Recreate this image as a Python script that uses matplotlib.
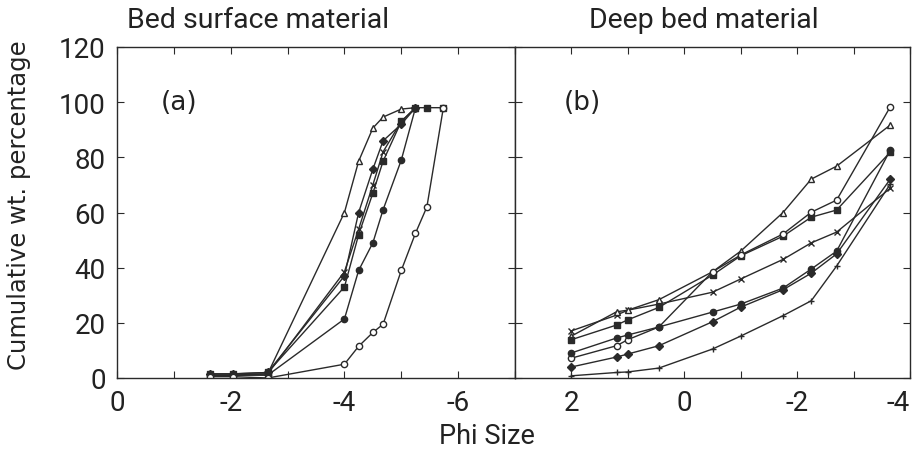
import matplotlib
matplotlib.use("Agg")
import matplotlib.pyplot as plt
from matplotlib.ticker import MultipleLocator

# ---------------- data ----------------
# Panel (a): bed surface material
phi_a = [-1.64, -2.04, -2.65, -4.0, -4.25, -4.5, -4.68, -5.0, -5.25, -5.45, -5.74]
a_triangle = [1.0, 1.0, 1.5, 60.0, 78.6, 90.6, 94.6, 97.5, 98.0]
a_diamond = [1.5, 1.5, 2.0, 37.0, 60.0, 75.7, 86.0, 92.0, 98.0]
a_square = [1.5, 1.5, 2.0, 33.0, 52.0, 67.0, 78.6, 93.0, 98.0, 98.0, 98.0]
a_cross = [1.0, 1.0, 1.5, 38.5, 54.0, 70.0, 82.0, 93.0, 98.0]
a_fcircle = [1.0, 1.0, 1.0, 21.4, 39.0, 49.0, 61.0, 79.0, 98.0]
a_ocircle = [0.5, 0.5, 0.0, 5.0, 11.5, 16.5, 19.5, 39.0, 52.5, 62.0, 98.0]

# Panel (b): deep bed material
phi_b = [2.0, 1.2, 1.0, 0.45, -0.5, -1.0, -1.75, -2.25, -2.7, -3.65]
b_cross = [17.1, 22.8, 24.6, 26.8, 31.1, 35.9, 43.0, 49.0, 52.9, 68.8]
b_triangle = [15.2, 24.0, 24.6, 28.4, 38.5, 46.0, 60.0, 72.1, 76.8, 91.7]
b_square = [13.9, 19.2, 21.1, 25.6, 37.3, 44.3, 51.4, 58.3, 60.9, 81.9]
b_ocircle = [7.2, 11.7, 13.9, 18.5, 38.5, 44.6, 52.2, 60.1, 64.5, 98.3]
b_fcircle = [9.1, 14.5, 15.6, 18.5, 23.9, 26.8, 32.6, 39.5, 46.0, 82.6]
b_diamond = [4.0, 7.6, 8.7, 11.7, 20.4, 25.7, 32.0, 38.0, 45.0, 72.1]
b_plus = [0.8, 2.0, 2.2, 3.6, 10.5, 15.2, 22.6, 28.0, 40.6, 70.3]

xticks_a = [0, -2, -4, -6]
xticks_b = [2, 0, -2, -4]
yticks = [0, 20, 40, 60, 80, 100, 120]

# ---------------- figure ----------------
narrow = ['Roboto', 'DejaVu Sans']
ink = '#2a2a2a'
txt = '#222222'

fig = plt.figure(figsize=(9.14, 4.52), dpi=100)
axa = fig.add_axes([117 / 914, 1 - 379 / 452, 398 / 914, 331 / 452])
axb = fig.add_axes([515 / 914, 1 - 379 / 452, 395 / 914, 331 / 452])

line_kw = dict(color=ink, lw=1.0, ms=4.5, mec=ink)

def plot_series(ax, xs, ys, marker, filled):
    ax.plot(xs[:len(ys)], ys, marker=marker,
            mfc=ink if filled else 'white', **line_kw)

plot_series(axa, phi_a, a_triangle, '^', False)
plot_series(axa, phi_a, a_diamond, 'D', True)
plot_series(axa, phi_a, a_square, 's', True)
plot_series(axa, phi_a, a_cross, 'x', False)
plot_series(axa, phi_a, a_fcircle, 'o', True)
plot_series(axa, phi_a, a_ocircle, 'o', False)

plot_series(axb, phi_b, b_cross, 'x', False)
plot_series(axb, phi_b, b_triangle, '^', False)
plot_series(axb, phi_b, b_square, 's', True)
plot_series(axb, phi_b, b_ocircle, 'o', False)
plot_series(axb, phi_b, b_fcircle, 'o', True)
plot_series(axb, phi_b, b_diamond, 'D', True)
plot_series(axb, phi_b, b_plus, '+', False)

axa.set_xlim(0, -7)
axb.set_xlim(3, -4)
for ax in (axa, axb):
    ax.set_ylim(0, 120)
    ax.xaxis.set_minor_locator(MultipleLocator(1))
    ax.tick_params(which='both', direction='in', top=True, bottom=True,
                   left=True, right=True, color=ink, width=0.8, length=5)
    ax.tick_params(axis='x', labelsize=20, pad=8, labelcolor=txt)
    for s in ax.spines.values():
        s.set_color(ink)
        s.set_linewidth(1.0)

axa.set_xticks(xticks_a)
axa.set_xticklabels([str(t) for t in xticks_a], family=narrow)
axb.set_xticks(xticks_b)
labs_b = axb.set_xticklabels([str(t) for t in xticks_b], family=narrow)
labs_b[-1].set_horizontalalignment('right')

axa.set_yticks(yticks)
axa.set_yticklabels([str(t) for t in yticks], family=narrow, fontsize=20,
                    color=txt)
axa.tick_params(axis='y', pad=8)
axb.set_yticks(yticks)
axb.tick_params(axis='y', labelleft=False)

axa.text(-1.1, 100, '(a)', fontsize=19, family='DejaVu Sans', color=txt,
         ha='center', va='center')
axb.text(1.8, 100, '(b)', fontsize=19, family='DejaVu Sans', color=txt,
         ha='center', va='center')

fig.text(258 / 914, 1 - 21 / 452, 'Bed surface material', fontsize=20.5,
         family=narrow, ha='center', va='center', color=txt)
fig.text(704 / 914, 1 - 21 / 452, 'Deep bed material', fontsize=20.5,
         family=narrow, ha='center', va='center', color=txt)
fig.text(487 / 914, 1 - 437 / 452, 'Phi Size', fontsize=19.5,
         family=narrow, ha='center', va='center', color=txt)
fig.text(19 / 914, 1 - 205 / 452, 'Cumulative wt. percentage', fontsize=17.5,
         family='DejaVu Sans', rotation=90, ha='center', va='center',
         color=txt)

fig.savefig('out.png', dpi=100, facecolor='white')
